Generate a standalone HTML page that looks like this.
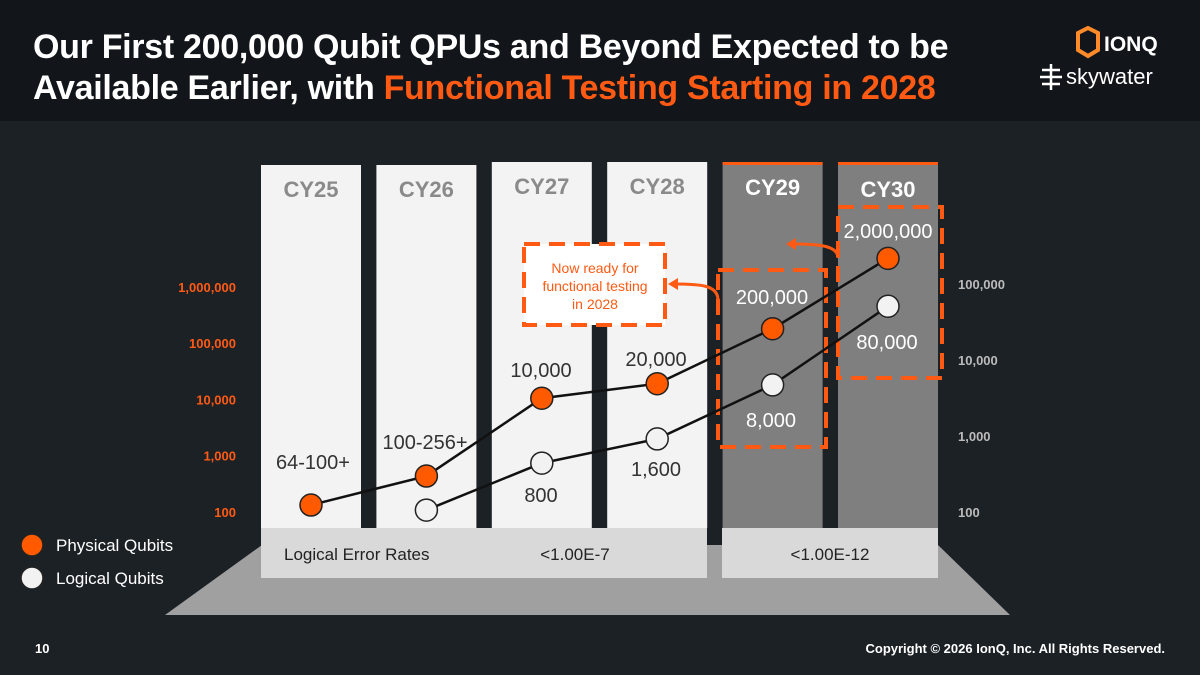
<!DOCTYPE html>
<html><head><meta charset="utf-8"><style>
body{margin:0;width:1200px;height:675px;overflow:hidden;background:#1c2126;font-family:"Liberation Sans",sans-serif}
#hdr{position:absolute;left:0;top:0;width:1200px;height:121px;background:#12161a}
h1{position:absolute;left:33px;top:27px;margin:0;color:#fff;font-size:34px;line-height:41px;font-weight:bold;letter-spacing:-0.3px;white-space:nowrap}
h1 span{color:#ff5a14}
</style></head><body>
<div id="hdr"></div>
<h1>Our First 200,000 Qubit QPUs and Beyond Expected to be<br>Available Earlier, with <span>Functional Testing Starting in 2028</span></h1>
<svg width="1200" height="675" style="position:absolute;left:0;top:0" id="chart">
<g>
<polygon points="1088,28 1098,33 1098,50 1088,56 1078,50 1078,33" fill="none" stroke="#ff8a2a" stroke-width="4"/>
<text x="1104" y="51" fill="#fff" font-size="21" font-weight="bold">IONQ</text>
<text x="1066" y="84" fill="#fff" font-size="22">skywater</text>
<g stroke="#fff" stroke-width="2.5"><line x1="1042" y1="70" x2="1060" y2="70"/><line x1="1040" y1="77" x2="1062" y2="77"/><line x1="1042" y1="84" x2="1060" y2="84"/><line x1="1051" y1="64" x2="1051" y2="90"/></g>
</g>
<polygon points="262,545 938,545 1010,615 165,615" fill="#a0a0a0"/>
<g id="cols"></g>
<rect x="261" y="528" width="446" height="50" fill="#d9d9d9"/>
<rect x="722" y="528" width="216" height="50" fill="#d9d9d9"/>
<text x="284" y="560" font-size="17" fill="#222">Logical Error Rates</text>
<text x="575" y="560" font-size="17" fill="#222" text-anchor="middle">&lt;1.00E-7</text>
<text x="830" y="560" font-size="17" fill="#222" text-anchor="middle">&lt;1.00E-12</text>
<g id="axes"></g>
<g fill="none" stroke="#ff5a14" stroke-width="4" stroke-dasharray="16,9">
<rect x="718" y="270" width="108" height="177"/>
<rect x="838" y="207" width="104" height="171"/>
<rect x="524" y="244" width="141" height="81" fill="#fff"/>
</g>
<text font-size="14" fill="#ff5a14" text-anchor="middle"><tspan x="595" y="273">Now ready for</tspan><tspan x="595" y="291">functional testing</tspan><tspan x="595" y="309">in 2028</tspan></text>
<path d="M718,300 C718,285 700,284 674,284" fill="none" stroke="#ff5a14" stroke-width="3"/>
<polygon points="668,284 678,278 678,290" fill="#ff5a14"/>
<path d="M838,258 C838,246 820,244 794,244" fill="none" stroke="#ff5a14" stroke-width="3"/>
<polygon points="786,244 796,238 796,250" fill="#ff5a14"/>
<g id="series"></g>
<circle cx="32" cy="545" r="11" fill="#ff5a00" stroke="#222" stroke-width="1.5"/>
<text x="56" y="551" fill="#fff" font-size="17">Physical Qubits</text>
<circle cx="32" cy="578" r="11" fill="#f2f2f2" stroke="#222" stroke-width="1.5"/>
<text x="56" y="584" fill="#fff" font-size="17">Logical Qubits</text>
<text x="35" y="653" fill="#fff" font-size="13" font-weight="bold">10</text>
<text x="1165" y="653" fill="#fff" font-size="13" font-weight="bold" text-anchor="end">Copyright © 2026 IonQ, Inc. All Rights Reserved.</text>
</svg>
<script>
const years=["CY25","CY26","CY27","CY28","CY29","CY30"];
const physical=[133,435,10500,19000,180000,3200000];
const logical=[null,106,440,915,4700,51000];
const physLabels=["64-100+","100-256+","10,000","20,000","200,000","2,000,000"];
const logLabels=["","800","1,600","8,000","80,000"];
const leftTicks=[100,1000,10000,100000,1000000];
const rightTicks=[100,1000,10000,100000];
const NS="http://www.w3.org/2000/svg";
function mk(t,a,p,txt){const e=document.createElementNS(NS,t);for(const k in a)e.setAttribute(k,a[k]);if(txt!==undefined)e.textContent=txt;p.appendChild(e);return e;}
const xc=i=>311+i*115.4;
const yL=v=>512-(Math.log10(v)-2)*56.3;
const yR=v=>512-(Math.log10(v)-2)*76;
const cols=document.getElementById('cols'),axes=document.getElementById('axes'),ser=document.getElementById('series');
years.forEach((y,i)=>{const dark=i>=4,top=i<2?165:162;
const r=mk('rect',{x:xc(i)-50,y:top,width:100,height:528-top,fill:dark?'#7f7f7f':'#f3f3f3'},cols);


if(dark)mk('rect',{x:xc(i)-50,y:162,width:100,height:3,fill:'#ff5a14'},cols);
const t=mk('text',{x:xc(i),y:i<2?197:i<4?194:i==4?195:197,'text-anchor':'middle','font-size':22,'font-weight':'bold',fill:dark?'#fff':'#8a8a8a'},cols,y);

});
leftTicks.forEach(v=>{const t=mk('text',{x:236,y:yL(v)+5,'text-anchor':'end','font-size':13,'font-weight':'bold',fill:'#ff5a14'},axes,v.toLocaleString('en-US'));

});
rightTicks.forEach(v=>{const t=mk('text',{x:958,y:yR(v)+5,'font-size':13,'font-weight':'bold',fill:'#bbb'},axes,v.toLocaleString('en-US'));

});
function line(vals,fy,col,name){let pts=[];vals.forEach((v,i)=>{if(v!=null)pts.push([xc(i),fy(v),i]);});
const pl=mk('polyline',{points:pts.map(p=>p[0]+','+p[1]).join(' '),fill:'none',stroke:'#111','stroke-width':2.5},ser);


pts.forEach(p=>{const c=mk('circle',{cx:p[0],cy:p[1],r:11,fill:col,stroke:'#222','stroke-width':1.5},ser);

});
}
line(physical,yL,'#ff5a00','physical');
line(logical,yR,'#f2f2f2','logical');
const pLab=[[313,469],[425,449],[541,377],[656,366],[772,304],[888,238]];
physLabels.forEach((s,i)=>{const t=mk('text',{x:pLab[i][0],y:pLab[i][1],'text-anchor':'middle','font-size':20,fill:i>=4?'#fff':'#333'},ser,s);

});
const lLab=[[541,502],[656,476],[771,427],[887,349]];
logLabels.slice(1).forEach((s,i)=>{const t=mk('text',{x:lLab[i][0],y:lLab[i][1],'text-anchor':'middle','font-size':20,fill:i>=2?'#fff':'#333'},ser,s);

});
</script>
</body></html>
